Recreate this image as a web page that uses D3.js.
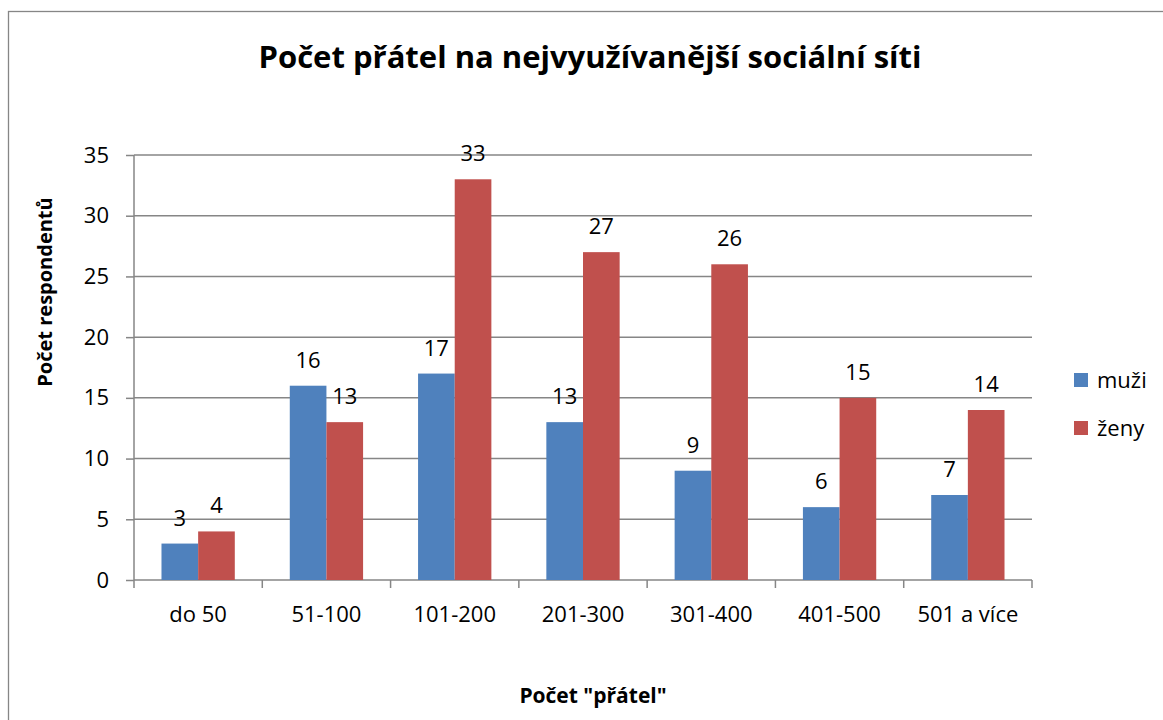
<!DOCTYPE html>
<html>
<head>
<meta charset="utf-8">
<script src="https://cdn.jsdelivr.net/npm/d3@7"></script>
<style>
  body { margin: 0; background: #fff; }
  svg text { font-family: "Open Sans", Lato, sans-serif; fill: #000; }
</style>
</head>
<body>
<svg id="chart" width="1163" height="720"></svg>
<script>
// data
var categories = ["do 50", "51-100", "101-200", "201-300", "301-400", "401-500", "501 a více"];
var seriesNames = ["muži", "ženy"];
var muzi = [3, 16, 17, 13, 9, 6, 7];
var zeny = [4, 13, 33, 27, 26, 15, 14];
var yTicks = [0, 5, 10, 15, 20, 25, 30, 35];
var colors = ["#4F81BD", "#C0504D"];

var svg = d3.select("#chart");
var plotLeft = 134, plotRight = 1032, plotTop = 155, plotBottom = 580;

// outer frame
svg.append("rect")
    .attr("x", 8.5).attr("y", 11.5)
    .attr("width", 1170).attr("height", 730)
    .attr("fill", "none")
    .attr("stroke", "#868686")
    .attr("stroke-width", 1.3);

var x = d3.scaleBand()
    .domain(categories)
    .range([plotLeft, plotRight]);

// gap width 150% of a bar -> 0.75 bar on each side
var xSub = d3.scaleBand()
    .domain(seriesNames)
    .range([0, x.bandwidth()])
    .paddingOuter(0.75);

var y = d3.scaleLinear()
    .domain([0, 35])
    .range([plotBottom, plotTop]);

// gridlines
svg.append("g")
    .selectAll("line")
    .data(yTicks.slice(1))
    .enter().append("line")
    .attr("x1", plotLeft).attr("x2", plotRight)
    .attr("y1", function(d) { return y(d); })
    .attr("y2", function(d) { return y(d); })
    .attr("stroke", "#868686")
    .attr("stroke-width", 1.5);

// y axis
var yAxis = svg.append("g")
    .attr("transform", "translate(" + plotLeft + ",0)")
    .call(d3.axisLeft(y).tickValues(yTicks).tickSize(8).tickPadding(17));
yAxis.select("path").attr("d", "M0," + plotBottom + "V" + plotTop);
yAxis.selectAll("path, line").attr("stroke", "#868686").attr("stroke-width", 1.5);
yAxis.selectAll("text").style("font-size", "22px").attr("fill", "#000");

// x axis
var xAxis = svg.append("g")
    .attr("transform", "translate(0," + plotBottom + ")")
    .call(d3.axisBottom(x).tickSize(0).tickPadding(26));
xAxis.select("path").attr("d", "M" + plotLeft + ",0H" + plotRight);
xAxis.select("path").attr("stroke", "#868686").attr("stroke-width", 1.5);
xAxis.selectAll("text").style("font-size", "22px").attr("fill", "#000");

// category tick marks at band edges
svg.append("g")
    .selectAll("line")
    .data(d3.range(categories.length + 1))
    .enter().append("line")
    .attr("x1", function(i) { return plotLeft + i * x.step(); })
    .attr("x2", function(i) { return plotLeft + i * x.step(); })
    .attr("y1", plotBottom).attr("y2", plotBottom + 8)
    .attr("stroke", "#868686")
    .attr("stroke-width", 1.5);

// bars
var rows = categories.map(function(c, i) {
    return { cat: c, vals: [{ s: "muži", v: muzi[i], k: 0 }, { s: "ženy", v: zeny[i], k: 1 }] };
});

var group = svg.append("g").selectAll("g")
    .data(rows)
    .enter().append("g")
    .attr("transform", function(d) { return "translate(" + x(d.cat) + ",0)"; });

group.selectAll("rect")
    .data(function(d) { return d.vals; })
    .enter().append("rect")
    .attr("x", function(d) { return xSub(d.s); })
    .attr("y", function(d) { return y(d.v); })
    .attr("width", xSub.bandwidth())
    .attr("height", function(d) { return plotBottom - y(d.v); })
    .attr("fill", function(d) { return colors[d.k]; });

group.selectAll("text")
    .data(function(d) { return d.vals; })
    .enter().append("text")
    .attr("x", function(d) { return xSub(d.s) + xSub.bandwidth() / 2; })
    .attr("y", function(d) { return y(d.v) - 18; })
    .attr("text-anchor", "middle")
    .style("font-size", "22px")
    .text(function(d) { return d.v; });

// title
svg.append("text")
    .attr("x", 590).attr("y", 68)
    .attr("text-anchor", "middle")
    .style("font-size", "31px")
    .style("font-weight", "bold")
    .text("Počet přátel na nejvyužívanější sociální síti");

// axis titles
svg.append("text")
    .attr("transform", "translate(52,292) rotate(-90)")
    .attr("text-anchor", "middle")
    .style("font-size", "20px")
    .style("font-weight", "bold")
    .text("Počet respondentů");

svg.append("text")
    .attr("x", 593).attr("y", 703)
    .attr("text-anchor", "middle")
    .style("font-size", "21px")
    .style("font-weight", "bold")
    .text("Počet \"přátel\"");

// legend
var legend = svg.append("g").selectAll("g")
    .data(seriesNames)
    .enter().append("g")
    .attr("transform", function(d, i) { return "translate(1074," + (373 + i * 48) + ")"; });
legend.append("rect")
    .attr("width", 14).attr("height", 14)
    .attr("fill", function(d, i) { return colors[i]; });
legend.append("text")
    .attr("x", 23).attr("y", 15)
    .style("font-size", "22px")
    .text(function(d) { return d; });
</script>
</body>
</html>
